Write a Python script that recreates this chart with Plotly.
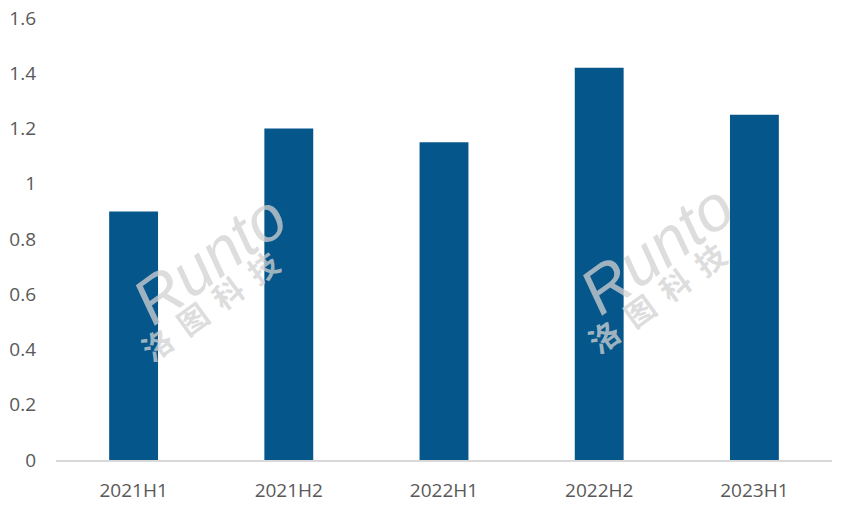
import plotly.graph_objects as go

categories = ["2021H1", "2021H2", "2022H1", "2022H2", "2023H1"]
values = [0.9, 1.2, 1.15, 1.42, 1.25]
y_ticks = [0, 0.2, 0.4, 0.6, 0.8, 1, 1.2, 1.4, 1.6]
y_tick_labels = ["0", "0.2", "0.4", "0.6", "0.8", "1", "1.2", "1.4", "1.6"]

fig = go.Figure(go.Bar(x=categories, y=values, marker=dict(color="#05568A", line=dict(width=0)),
                       hoverinfo="x+y"))

font_family = "'Open Sans', Lato, 'Liberation Sans', sans-serif"

# watermarks
for (cx, cy1, cy2) in [(0.198, 0.455, 0.351), (0.774, 0.478, 0.369)]:
    fig.add_annotation(xref="paper", yref="paper", x=cx, y=cy1, text="<i>Runto</i>",
                       showarrow=False, textangle=-36, xanchor="center", yanchor="middle",
                       font=dict(family="'Liberation Sans', sans-serif", size=64, color="rgba(210,210,210,0.75)"))
    fig.add_annotation(xref="paper", yref="paper", x=cx, y=cy2, text="<b>洛  图  科  技</b>",
                       showarrow=False, textangle=-36, xanchor="center", yanchor="middle",
                       font=dict(family="'Noto Sans CJK SC', sans-serif", size=30, color="rgba(210,210,210,0.75)"))

fig.update_layout(
    width=845, height=507,
    margin=dict(l=56, r=13, t=18, b=47),
    paper_bgcolor="white", plot_bgcolor="white",
    bargap=0.685,
    showlegend=False,
    font=dict(family=font_family, size=19, color="#595959"),
    xaxis=dict(showgrid=False, showline=True, linecolor="#D9D9D9", linewidth=1.5, automargin=False,
               ticks="", ticklabelstandoff=12, tickfont=dict(size=19, color="#595959")),
    yaxis=dict(range=[0, 1.6], tickvals=y_ticks, ticktext=y_tick_labels, showgrid=False, automargin=False,
               showline=False, zeroline=False, ticks="", ticklabelstandoff=19,
               tickfont=dict(size=19, color="#595959")),
)

fig.write_html("out.html", config={"displayModeBar": False},
               post_script="document.body.style.margin='0';")
